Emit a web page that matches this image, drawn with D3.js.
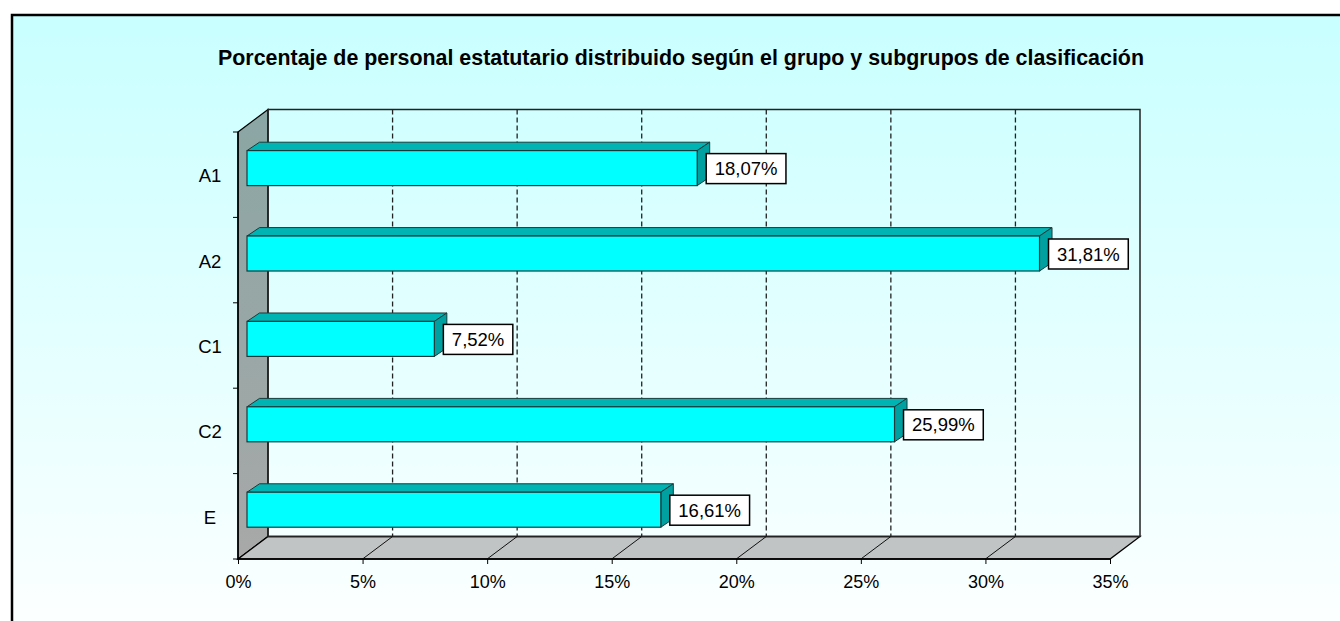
<!DOCTYPE html>
<html>
<head>
<meta charset="utf-8">
<script src="https://cdn.jsdelivr.net/npm/d3@7"></script>
<style>
  html, body { margin: 0; padding: 0; background: #fff; }
  svg { display: block; font-family: Arial, "Liberation Sans", sans-serif; }
</style>
</head>
<body>
<svg id="chart" width="1340" height="621"></svg>
<script>
const title = "Porcentaje de personal estatutario distribuido según el grupo y subgrupos de clasificación";
const categories = ["A1", "A2", "C1", "C2", "E"];
const values = [18.07, 31.81, 7.52, 25.99, 16.61];
const valueLabels = ["18,07%", "31,81%", "7,52%", "25,99%", "16,61%"];
const xTicks = [0, 5, 10, 15, 20, 25, 30, 35];

const svg = d3.select("#chart");
const W = 1340, H = 621;

// 3D geometry
const front = { left: 238, right: 1110, top: 132, bottom: 559 };
const depth = { dx: 30, dy: -22.5 };
const barShift = { dx: 9, dy: -6.6 };     // bar front face offset from front plane
const barDepth = { dx: 12.5, dy: -8.4 };  // bar extrusion

const x = d3.scaleLinear().domain([0, 35]).range([front.left, front.right]);
const y = d3.scaleBand().domain(categories).range([front.top, front.bottom]).padding(0);

const defs = svg.append("defs");
const bg = defs.append("linearGradient").attr("id", "bg").attr("x1", 0).attr("y1", 0).attr("x2", 0).attr("y2", 1);
bg.append("stop").attr("offset", "0%").attr("stop-color", "#C9FFFF");
bg.append("stop").attr("offset", "100%").attr("stop-color", "#FFFFFF");
const wall = defs.append("linearGradient").attr("id", "wall").attr("x1", 0).attr("y1", 0).attr("x2", 0).attr("y2", 1);
wall.append("stop").attr("offset", "0%").attr("stop-color", "#8AA6A4");
wall.append("stop").attr("offset", "100%").attr("stop-color", "#A8A8A8");

// background & frame
svg.append("rect").attr("x", 0).attr("y", 0).attr("width", W).attr("height", H).attr("fill", "#fff");
svg.append("rect").attr("x", 12).attr("y", 15).attr("width", W + 20).attr("height", H + 20)
  .attr("fill", "url(#bg)").attr("stroke", "#000").attr("stroke-width", 2.5);

// title
svg.append("text").attr("x", 681).attr("y", 65).attr("text-anchor", "middle")
  .attr("font-weight", "bold").attr("font-size", 21.4).attr("fill", "#000").text(title);

// left wall
const wallPts = [[front.left, front.top], [front.left + depth.dx, front.top + depth.dy],
  [front.left + depth.dx, front.bottom + depth.dy], [front.left, front.bottom]];
svg.append("polygon").attr("points", wallPts.map(p => p.join(",")).join(" "))
  .attr("fill", "url(#wall)").attr("stroke", "#000").attr("stroke-width", 1.3);

// floor
const floorPts = [[front.left, front.bottom], [front.right, front.bottom],
  [front.right + depth.dx, front.bottom + depth.dy], [front.left + depth.dx, front.bottom + depth.dy]];
svg.append("polygon").attr("points", floorPts.map(p => p.join(",")).join(" "))
  .attr("fill", "#C0C4C4").attr("stroke", "#000").attr("stroke-width", 1.3);

// back wall outline
svg.append("rect").attr("x", front.left + depth.dx).attr("y", front.top + depth.dy)
  .attr("width", front.right - front.left).attr("height", front.bottom - front.top)
  .attr("fill", "none").attr("stroke", "#222").attr("stroke-width", 1.5);

// gridlines on back wall (dashed) and floor
const inner = xTicks.filter(t => t > 0 && t < 35);
svg.append("g").selectAll("line").data(inner).join("line")
  .attr("x1", d => x(d) + depth.dx).attr("x2", d => x(d) + depth.dx)
  .attr("y1", front.top + depth.dy).attr("y2", front.bottom + depth.dy)
  .attr("stroke", "#222").attr("stroke-width", 1.3).attr("stroke-dasharray", "5,3");
svg.append("g").selectAll("line").data(inner).join("line")
  .attr("x1", d => x(d)).attr("x2", d => x(d) + depth.dx)
  .attr("y1", front.bottom).attr("y2", front.bottom + depth.dy)
  .attr("stroke", "#111").attr("stroke-width", 1);

// front axes lines
svg.append("line").attr("x1", front.left).attr("x2", front.left).attr("y1", front.top).attr("y2", front.bottom)
  .attr("stroke", "#000").attr("stroke-width", 1.5);
svg.append("line").attr("x1", front.left).attr("x2", front.right).attr("y1", front.bottom).attr("y2", front.bottom)
  .attr("stroke", "#000").attr("stroke-width", 1.5);

// x axis (labels + ticks)
const xAxis = d3.axisBottom(x).tickValues(xTicks).tickFormat(d => d + "%").tickSize(5).tickPadding(11);
const gx = svg.append("g").attr("transform", `translate(0,${front.bottom})`).call(xAxis);
gx.select(".domain").remove();
gx.selectAll(".tick line").attr("stroke", "#000");
gx.selectAll(".tick text").attr("font-size", 18).attr("fill", "#000").attr("font-family", "Arial, 'Liberation Sans', sans-serif");

// y axis ticks at band boundaries
const bounds = categories.map(c => y(c)).concat([front.bottom]);
svg.append("g").selectAll("line").data(bounds).join("line")
  .attr("x1", front.left - 5).attr("x2", front.left).attr("y1", d => d).attr("y2", d => d)
  .attr("stroke", "#000").attr("stroke-width", 1);
svg.append("g").selectAll("text").data(categories).join("text")
  .attr("x", 210).attr("y", d => y(d) + y.bandwidth() / 2 + 7.5)
  .attr("text-anchor", "middle").attr("font-size", 18.5).attr("fill", "#000").text(d => d);

// bars
const barH = y.bandwidth() * 0.41;
const bars = svg.append("g").selectAll("g").data(categories.map((c, i) => ({ c, v: values[i], lab: valueLabels[i] }))).join("g");
bars.each(function (d) {
  const g = d3.select(this);
  const x0 = x(0) + barShift.dx, x1 = x(d.v) + barShift.dx;
  const yc = y(d.c) + y.bandwidth() / 2 + barShift.dy;
  const y0 = yc - barH / 2, y1 = yc + barH / 2;
  const ddx = barDepth.dx, ddy = barDepth.dy;
  // top face
  g.append("polygon").attr("points", [[x0, y0], [x1, y0], [x1 + ddx, y0 + ddy], [x0 + ddx, y0 + ddy]].map(p => p.join(",")).join(" "))
    .attr("fill", "#00B4B4").attr("stroke", "#1a3a3a").attr("stroke-width", 1);
  // side face
  g.append("polygon").attr("points", [[x1, y0], [x1 + ddx, y0 + ddy], [x1 + ddx, y1 + ddy], [x1, y1]].map(p => p.join(",")).join(" "))
    .attr("fill", "#00A0A0").attr("stroke", "#1a3a3a").attr("stroke-width", 1);
  // front face
  g.append("rect").attr("x", x0).attr("y", y0).attr("width", x1 - x0).attr("height", barH)
    .attr("fill", "#00FFFF").attr("stroke", "#1a3a3a").attr("stroke-width", 1.2);
  // label box
  const t = g.append("text").attr("font-size", 18.5).attr("fill", "#000").text(d.lab);
  const tw = t.node().getComputedTextLength();
  const bx = x1 + 9, bw = tw + 17, bh = 30, by = yc + 0.5 - bh / 2;
  g.insert("rect", "text").attr("x", bx).attr("y", by).attr("width", bw).attr("height", bh)
    .attr("fill", "#fff").attr("stroke", "#000").attr("stroke-width", 1.5);
  t.attr("x", bx + bw / 2).attr("y", by + bh / 2 + 6.5).attr("text-anchor", "middle");
});
</script>
</body>
</html>
